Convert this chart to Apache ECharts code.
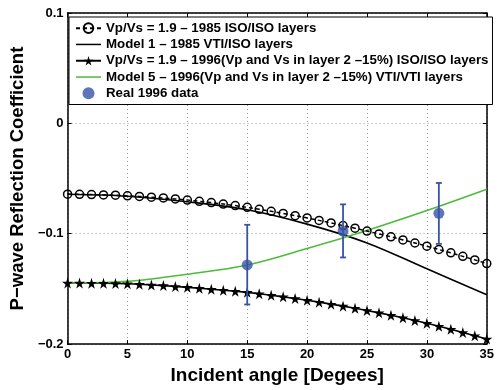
<!DOCTYPE html>
<html>
<head>
<meta charset="utf-8">
<script src="https://cdn.jsdelivr.net/npm/echarts@6/dist/echarts.min.js"></script>
<style>
  html, body { margin: 0; padding: 0; background: #fff; }
  #chart { width: 497px; height: 390px; }
</style>
</head>
<body>
<div id="chart"></div>
<script>
// incidence angles, one marker per degree
const angles = [0, 1, 2, 3, 4, 5, 6, 7, 8, 9, 10, 11, 12, 13, 14, 15, 16, 17,
  18, 19, 20, 21, 22, 23, 24, 25, 26, 27, 28, 29, 30, 31, 32, 33, 34, 35]

const iso1985 = [-0.0642, -0.0643, -0.0645, -0.0648, -0.0651, -0.0656, -0.0662, -0.0669,
  -0.0676, -0.0685, -0.0695, -0.0706, -0.0718, -0.0731, -0.0745, -0.0761, -0.0779, -0.0797,
  -0.0816, -0.0836, -0.0857, -0.0879, -0.0902, -0.0926, -0.0950, -0.0976, -0.1002, -0.1028,
  -0.1056, -0.1084, -0.1113, -0.1143, -0.1173, -0.1205, -0.1237, -0.1270]

const iso1996 = [-0.1447, -0.1447, -0.1448, -0.1449, -0.1451, -0.1453, -0.1458, -0.1464,
  -0.1470, -0.1478, -0.1486, -0.1494, -0.1503, -0.1512, -0.1521, -0.1531, -0.1544, -0.1558,
  -0.1572, -0.1587, -0.1603, -0.1620, -0.1638, -0.1656, -0.1675, -0.1695, -0.1717, -0.1739,
  -0.1762, -0.1786, -0.1811, -0.1838, -0.1866, -0.1895, -0.1924, -0.1954]

// model curves sampled every 5 degrees
const modelAngles = [0, 5, 10, 15, 20, 25, 30, 35]
const model1 = [-0.0642, -0.0660, -0.0710, -0.0783, -0.0913, -0.1083, -0.1318, -0.1552]
const model5 = [-0.1447, -0.1432, -0.1367, -0.1283, -0.1134, -0.0970, -0.0790, -0.0597]

// measured 1996 data with error bars
const realAngles = [15, 23, 31]
const realValues = [-0.1283, -0.0976, -0.0815]
const realLow = [-0.1641, -0.1215, -0.1092]
const realHigh = [-0.0919, -0.0734, -0.0540]

const names = [
  'Vp/Vs = 1.9 – 1985 ISO/ISO layers',
  'Model 1 – 1985 VTI/ISO layers',
  'Vp/Vs = 1.9 – 1996(Vp and Vs in layer 2 –15%) ISO/ISO layers',
  'Model 5 – 1996(Vp and Vs in layer 2 –15%) VTI/VTI layers',
  'Real 1996 data',
]

const pairs = (xs, ys) => xs.map((x, i) => [x, ys[i]])
const font = 'Liberation Sans'
const blue = '#3853a6'
const green = '#4cbb3a'
const star = 'path://M50,0 L61,35 L98,35 L68,57 L79,91 L50,70 L21,91 L32,57 L2,35 L39,35 Z'
const lineIcon = 'path://M0,0 L50,0 L50,3 L0,3 Z'

const chart = echarts.init(document.getElementById('chart'))

const tickLabel = {
  fontFamily: font, fontWeight: 'bold', fontSize: 13, color: '#000',
  formatter: v => String(v).replace('-', '−'),
}
const frame = { show: true, onZero: false, lineStyle: { color: '#000', width: 1.5 } }
const ticks = { show: true, inside: true, length: 4, lineStyle: { color: '#000' } }
const grid = { show: true, lineStyle: { color: '#999', type: [1, 3] } }

chart.setOption({
  animation: false,
  grid: { left: 64, right: 6, top: 13, bottom: 42 },
  legend: {
    data: [
      { name: names[0] },
      { name: names[1], icon: lineIcon },
      { name: names[2] },
      { name: names[3], icon: lineIcon },
      { name: names[4] },
    ],
    orient: 'vertical',
    left: 69,
    top: 17,
    padding: [4, 4, 4, 6],
    itemWidth: 25,
    itemHeight: 12,
    itemGap: 2,
    borderColor: '#000',
    borderWidth: 1,
    backgroundColor: '#fff',
    textStyle: { fontFamily: font, fontWeight: 'bold', fontSize: 13.3, lineHeight: 14.3, color: '#000' },
  },
  xAxis: [
    {
      type: 'value', min: 0, max: 35, interval: 5,
      name: 'Incident angle [Degees]',
      nameLocation: 'middle', nameGap: 17,
      nameTextStyle: { fontFamily: font, fontWeight: 'bold', fontSize: 19, color: '#000' },
      axisLine: frame,
      axisTick: ticks,
      axisLabel: { ...tickLabel, margin: 4 },
      splitLine: grid,
    },
    {
      type: 'value', min: 0, max: 35, interval: 5, position: 'top',
      axisLine: frame,
      axisTick: ticks,
      axisLabel: { show: false },
      splitLine: { show: false },
    },
  ],
  yAxis: [
    {
      type: 'value', min: -0.2, max: 0.1, interval: 0.1,
      name: 'P−wave Reflection Coefficient',
      nameLocation: 'middle', nameGap: 38,
      nameTextStyle: { fontFamily: font, fontWeight: 'bold', fontSize: 18.5, color: '#000' },
      axisLine: frame,
      axisTick: ticks,
      axisLabel: { ...tickLabel, margin: 4 },
      splitLine: grid,
    },
    {
      type: 'value', min: -0.2, max: 0.1, interval: 0.1, position: 'right',
      axisLine: frame,
      axisTick: ticks,
      axisLabel: { show: false },
      splitLine: { show: false },
    },
  ],
  series: [
    {
      name: names[0],
      type: 'line',
      data: pairs(angles, iso1985),
      symbol: 'circle',
      symbolSize: 8,
      itemStyle: { color: 'rgba(255,255,255,0)', borderColor: '#000', borderWidth: 1.5 },
      lineStyle: { color: '#000', width: 1.5, type: [4, 3] },
      z: 4,
    },
    {
      name: names[1],
      type: 'line',
      data: pairs(modelAngles, model1),
      smooth: 0.35,
      symbol: 'none',
      itemStyle: { color: '#000' },
      lineStyle: { color: '#000', width: 1.6 },
      z: 3,
    },
    {
      name: names[2],
      type: 'line',
      data: pairs(angles, iso1996),
      symbol: star,
      symbolSize: 11,
      itemStyle: { color: '#000' },
      lineStyle: { color: '#000', width: 1.6 },
      z: 3,
    },
    {
      name: names[3],
      type: 'line',
      data: pairs(modelAngles, model5),
      smooth: 0.35,
      symbol: 'none',
      itemStyle: { color: green },
      lineStyle: { color: green, width: 1.6 },
      z: 3,
    },
    {
      name: 'errorbars',
      type: 'custom',
      data: realAngles.map((x, i) => [x, realLow[i], realHigh[i]]),
      renderItem: (params, api) => {
        const lo = api.coord([api.value(0), api.value(1)])
        const hi = api.coord([api.value(0), api.value(2)])
        const cap = 3
        const style = { stroke: blue, lineWidth: 1.8 }
        return {
          type: 'group',
          children: [
            { type: 'line', shape: { x1: lo[0], y1: lo[1], x2: hi[0], y2: hi[1] }, style },
            { type: 'line', shape: { x1: lo[0] - cap, y1: lo[1], x2: lo[0] + cap, y2: lo[1] }, style },
            { type: 'line', shape: { x1: hi[0] - cap, y1: hi[1], x2: hi[0] + cap, y2: hi[1] }, style },
          ],
        }
      },
      z: 5,
    },
    {
      name: names[4],
      type: 'scatter',
      data: pairs(realAngles, realValues),
      symbol: 'circle',
      symbolSize: 11,
      itemStyle: { color: blue },
      z: 6,
    },
  ],
})
</script>
</body>
</html>
